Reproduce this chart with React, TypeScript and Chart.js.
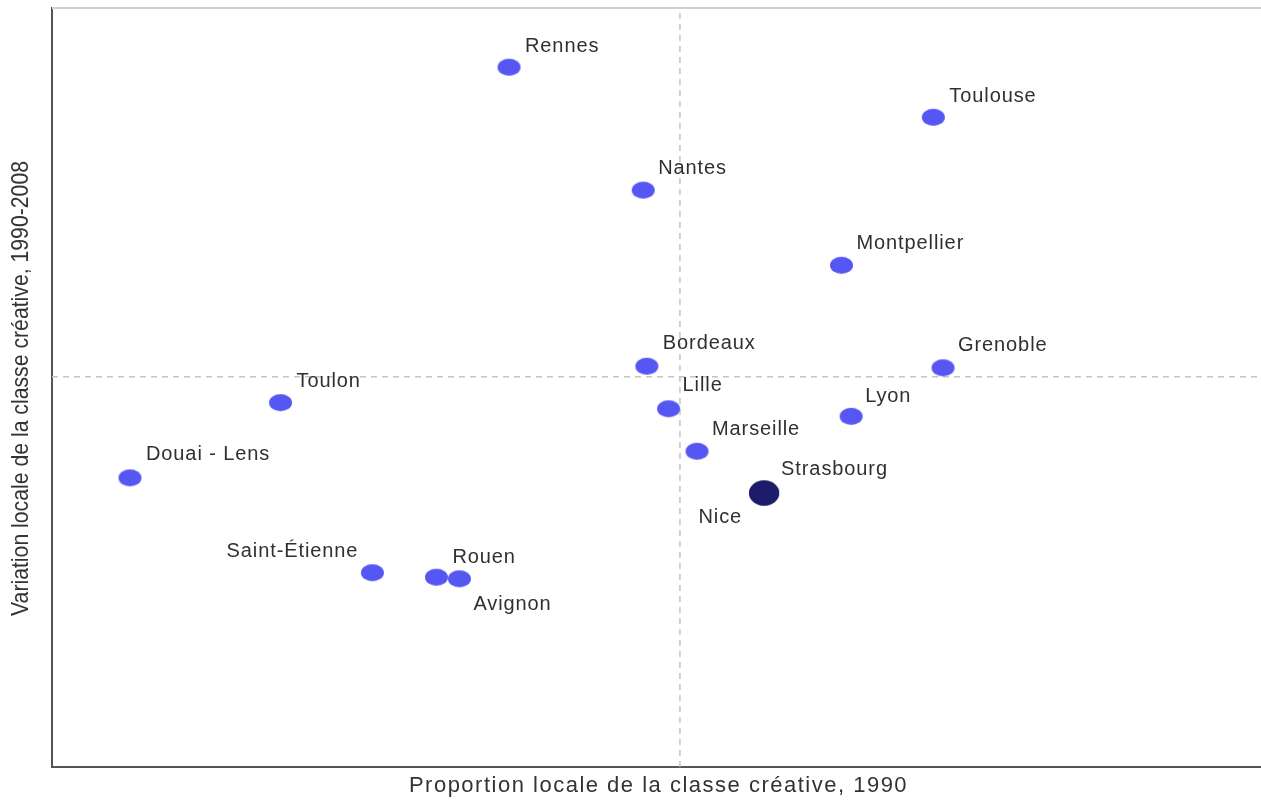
import React, { useEffect, useRef } from "react";
import { Chart, registerables } from "chart.js";

Chart.register(...registerables);

// ---- data ----
const cities = [
  "Rennes", "Toulouse", "Nantes", "Montpellier", "Bordeaux", "Grenoble",
  "Toulon", "Lille", "Lyon", "Douai - Lens", "Marseille", "Saint-Étienne",
  "Rouen", "Avignon", "Strasbourg", "Nice",
];
const proportion1990 = [37.8, 72.9, 48.9, 65.3, 49.2, 73.7, 18.9, 51.0, 66.1, 6.45, 53.35, 26.5, 31.8, 33.7, 58.9, 58.9];
const variation19902008 = [92.2, 85.6, 76.0, 66.1, 52.8, 52.6, 48.0, 47.2, 46.2, 38.1, 41.6, 25.6, 25.0, 24.8, 36.1, 36.1];
const highlighted = ["Strasbourg", "Nice"];
const xReference = 51.94;
const yReference = 51.4;
const xTitle = "Proportion locale de la classe créative, 1990";
const yTitle = "Variation locale de la classe créative, 1990-2008";

// ---- label layout (offsets from the point, px) ----
const labelLayout: Record<string, [number, number, CanvasTextAlign]> = {
  "Rennes": [16, -21, "left"],
  "Toulouse": [16, -21, "left"],
  "Nantes": [15, -22, "left"],
  "Montpellier": [15, -22, "left"],
  "Bordeaux": [16, -23, "left"],
  "Grenoble": [15, -22, "left"],
  "Toulon": [16, -21, "left"],
  "Lille": [14, -23, "left"],
  "Lyon": [14, -20, "left"],
  "Douai - Lens": [16, -23, "left"],
  "Marseille": [15, -22, "left"],
  "Saint-Étienne": [-14, -21, "right"],
  "Rouen": [16, -20, "left"],
  "Avignon": [14, 26, "left"],
  "Strasbourg": [17, -24, "left"],
  "Nice": [-22, 24, "right"],
};

function ellipseImage(w: number, h: number, color: string) {
  const c = document.createElement("canvas");
  c.width = w + 2;
  c.height = h + 2;
  const ctx = c.getContext("2d")!;
  ctx.fillStyle = color;
  ctx.beginPath();
  ctx.ellipse(c.width / 2, c.height / 2, w / 2, h / 2, 0, 0, Math.PI * 2);
  ctx.fill();
  return c;
}

const decorPlugin = {
  id: "decor",
  beforeDatasetsDraw(chart: any) {
    const { ctx, chartArea } = chart;
    ctx.save();
    ctx.strokeStyle = "#cfcfcf";
    ctx.lineWidth = 2;
    ctx.beginPath();
    ctx.moveTo(chartArea.left, chartArea.top);
    ctx.lineTo(chartArea.right, chartArea.top);
    ctx.stroke();
    ctx.restore();
  },
  afterDatasetsDraw(chart: any) {
    const { ctx, chartArea } = chart;
    const meta = chart.getDatasetMeta(0);
    ctx.save();
    ctx.fillStyle = "#303030";
    ctx.font = '20px "Liberation Sans", Arial, sans-serif';
    (ctx as any).letterSpacing = "0.9px";
    ctx.textBaseline = "middle";
    cities.forEach((name, i) => {
      const el = meta.data[i];
      const [dx, dy, align] = labelLayout[name] || [14, -22, "left"];
      ctx.textAlign = align;
      ctx.fillText(name, el.x + dx, el.y + dy);
    });
    // x title
    (ctx as any).letterSpacing = "1.5px";
    ctx.font = '22px "Liberation Sans", Arial, sans-serif';
    ctx.textAlign = "center";
    ctx.fillStyle = "#333333";
    ctx.fillText(xTitle, (chartArea.left + chartArea.right) / 2 + 2, 786);
    // y title (condensed)
    (ctx as any).letterSpacing = "0px";
    ctx.font = '24px "Liberation Sans", Arial, sans-serif';
    ctx.translate(21, (chartArea.top + chartArea.bottom) / 2 + 1);
    ctx.rotate(-Math.PI / 2);
    const w = ctx.measureText(yTitle).width;
    ctx.scale(455 / w, 1);
    ctx.fillText(yTitle, 0, 0);
    ctx.restore();
  },
};

export default function App() {
  const ref = useRef<HTMLCanvasElement>(null);
  useEffect(() => {
    const normal = ellipseImage(23, 17, "#5656F2");
    const dark = ellipseImage(30, 25, "#1c1c6a");
    const styles = cities.map((c) => (highlighted.includes(c) ? dark : normal));
    const chart = new Chart(ref.current!, {
      type: "scatter",
      data: {
        datasets: [
          {
            data: cities.map((_, i) => ({ x: proportion1990[i], y: variation19902008[i] })),
            pointStyle: styles as any,
            pointRadius: 10,
            backgroundColor: "#5656F2",
            order: 1,
          },
          {
            data: [{ x: xReference, y: 0 }, { x: xReference, y: 100 }],
            showLine: true,
            pointRadius: 0,
            borderColor: "#c4c4c4",
            borderWidth: 1.5,
            borderDash: [6, 5],
            order: 2,
          },
          {
            data: [{ x: 0, y: yReference }, { x: 100, y: yReference }],
            showLine: true,
            pointRadius: 0,
            borderColor: "#c4c4c4",
            borderWidth: 1.5,
            borderDash: [6, 5],
            order: 3,
          },
        ],
      },
      options: {
        animation: false,
        responsive: false,
        maintainAspectRatio: false,
        layout: { autoPadding: false, padding: { left: 52, top: 8, right: 0, bottom: 33 } },
        plugins: { legend: { display: false }, tooltip: { enabled: false } },
        scales: {
          x: {
            type: "linear",
            min: 0,
            max: 100,
            ticks: { display: false },
            grid: { display: false, drawTicks: false },
            border: { display: true, color: "#555555", width: 2 },
          },
          y: {
            type: "linear",
            min: 0,
            max: 100,
            ticks: { display: false },
            grid: { display: false, drawTicks: false },
            border: { display: true, color: "#555555", width: 2 },
          },
        },
      },
      plugins: [decorPlugin],
    });
    return () => chart.destroy();
  }, []);
  return (
    <div style={{ position: "fixed", left: 0, top: 0, width: 1261, height: 800, background: "#fff" }}>
      <canvas ref={ref} width={1261} height={800} style={{ width: 1261, height: 800, display: "block" }} />
    </div>
  );
}
